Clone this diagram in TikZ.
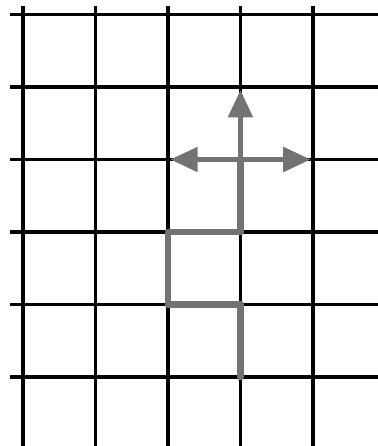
\documentclass[tikz,border=0pt]{standalone}
\usepackage{tikz}
\usetikzlibrary{arrows.meta}

\begin{document}
\begin{tikzpicture}[
    gridline/.style={black, line width=1.25pt},
    walk/.style={black!55, line width=2.7pt, line join=round, line cap=round},
    arr/.style={black!55, line width=2.2pt, -{Triangle[length=0.38cm, width=0.33cm]}},
  ]
  \useasboundingbox (-0.317,-0.952) rectangle (4.897,5.2);

  % Lattice
  \foreach \j in {0,...,5} {
    \draw[gridline] (-0.18,\j) -- (4.897,\j);
  }
  \foreach \i in {0,...,4} {
    \draw[gridline] (\i,-0.952) -- (\i,5.12);
  }

  % Walk sites
  \coordinate (s0) at (3,0);
  \coordinate (s1) at (3,1);
  \coordinate (s2) at (2,1);
  \coordinate (s3) at (2,2);
  \coordinate (s4) at (3,2);
  \coordinate (s5) at (3,3);
  \coordinate (up) at (3,3.96);
  \coordinate (lt) at (2.03,3);
  \coordinate (rt) at (3.97,3);

  % Walk so far
  \draw[walk] (s0) -- (s1) -- (s2) -- (s3) -- (s4) -- (s5);

  % Possible next steps
  \draw[arr] (s5) -- (up);
  \draw[arr] (s5) -- (lt);
  \draw[arr] (s5) -- (rt);

\end{tikzpicture}
\end{document}
